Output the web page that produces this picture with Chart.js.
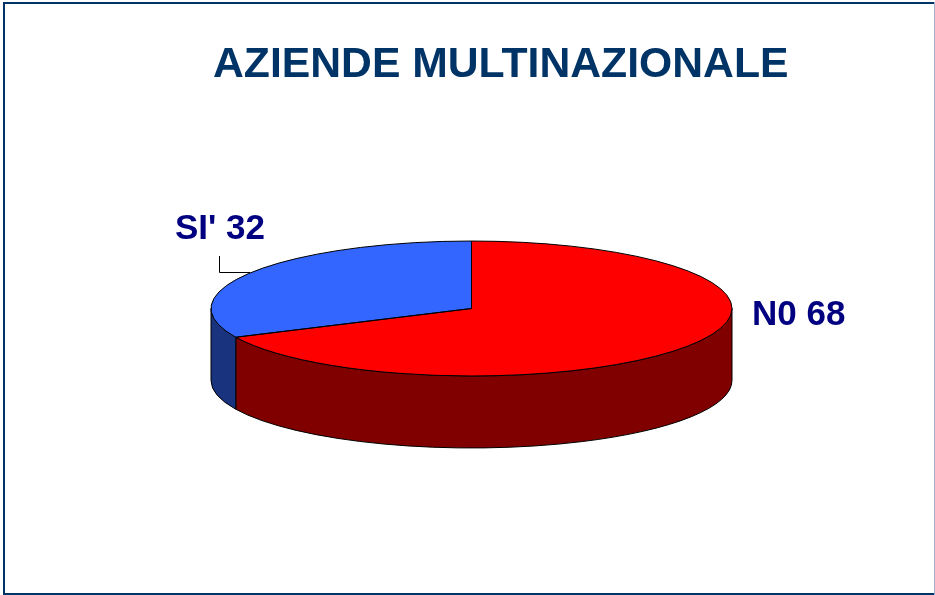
<!DOCTYPE html>
<html>
<head>
<meta charset="utf-8">
<title>Aziende multinazionale</title>
<script src="https://cdn.jsdelivr.net/npm/chart.js@4"></script>
<style>
  html, body { margin: 0; padding: 0; background: #fff; overflow: hidden; }
  canvas { display: block; }
</style>
</head>
<body>
<canvas id="torta" width="935" height="595"></canvas>
<script>
const titolo = "AZIENDE MULTINAZIONALE";
const categorie = ["N0", "SI'"];
const valori = [68, 32];
const coloriSopra = ["#ff0000", "#3366ff"];
const coloriLato = ["#800000", "#19337f"];

// schiacciamento della torta e altezza del bordo (finto 3D)
const SQUASH = 0.259;
const DEPTH = 72;

function lato(ctx, arc, colore) {
  // solo la parte davanti dell'ellisse si vede
  const a = Math.max(arc.startAngle, 0);
  const b = Math.min(arc.endAngle, Math.PI);
  if (a >= b) return;
  const rx = arc.outerRadius, ry = rx * SQUASH;
  ctx.beginPath();
  ctx.ellipse(arc.x, arc.y, rx, ry, 0, a, b);
  ctx.ellipse(arc.x, arc.y + DEPTH, rx, ry, 0, b, a, true);
  ctx.closePath();
  ctx.fillStyle = colore;
  ctx.fill();
  ctx.stroke();
}

const torta3d = {
  id: "torta3d",
  beforeDatasetsDraw(chart) {
    const ctx = chart.ctx;
    const archi = chart.getDatasetMeta(0).data;
    ctx.save();
    ctx.strokeStyle = "#000";
    ctx.lineWidth = 1;
    archi.forEach((arc, i) => lato(ctx, arc, coloriLato[i]));
    ctx.restore();
    // le fette vere le disegna Chart.js, dentro questa trasformazione
    const { x, y } = archi[0];
    ctx.save();
    ctx.translate(x, y);
    ctx.scale(1, SQUASH);
    ctx.translate(-x, -y);
  },
  afterDatasetsDraw(chart) {
    const ctx = chart.ctx;
    ctx.restore();
    ctx.save();
    ctx.strokeStyle = "#000";
    ctx.lineWidth = 1;
    chart.getDatasetMeta(0).data.forEach(arc => {
      const rx = arc.outerRadius;
      ctx.beginPath();
      ctx.moveTo(arc.x, arc.y);
      ctx.ellipse(arc.x, arc.y, rx, rx * SQUASH, 0, arc.startAngle, arc.endAngle);
      ctx.closePath();
      ctx.stroke();
    });
    ctx.restore();
  },
  afterDraw(chart) {
    const ctx = chart.ctx;
    ctx.save();
    // cornice
    ctx.fillStyle = "#003366";
    ctx.fillRect(3, 2, 932, 2);
    ctx.fillRect(3, 2, 2, 592);
    ctx.fillRect(3, 593, 932, 2);
    ctx.fillStyle = "#9fb0d0";
    ctx.fillRect(934, 2, 1, 593);
    // titolo
    ctx.textBaseline = "alphabetic";
    ctx.textAlign = "left";
    ctx.fillStyle = "#003366";
    ctx.font = "bold 42.7px 'Liberation Sans'";
    ctx.fillText(titolo, 213, 77);
    // etichette
    ctx.fillStyle = "#000080";
    ctx.font = "bold 35px 'Liberation Sans'";
    ctx.fillText(categorie[0] + " " + valori[0], 752, 325);
    ctx.fillText(categorie[1] + " " + valori[1], 175, 239);
    // linea guida di SI'
    ctx.strokeStyle = "#000";
    ctx.lineWidth = 1;
    ctx.beginPath();
    ctx.moveTo(219.5, 256);
    ctx.lineTo(219.5, 272.5);
    ctx.lineTo(250, 272.5);
    ctx.stroke();
    ctx.restore();
  }
};

new Chart(document.getElementById("torta"), {
  type: "pie",
  data: {
    labels: categorie,
    datasets: [{
      data: valori,
      backgroundColor: coloriSopra,
      borderWidth: 0
    }]
  },
  options: {
    responsive: false,
    animation: false,
    layout: { padding: { left: 211, right: 203, top: 48, bottom: 26 } },
    plugins: {
      legend: { display: false },
      tooltip: { enabled: false }
    }
  },
  plugins: [torta3d]
});
</script>
</body>
</html>
